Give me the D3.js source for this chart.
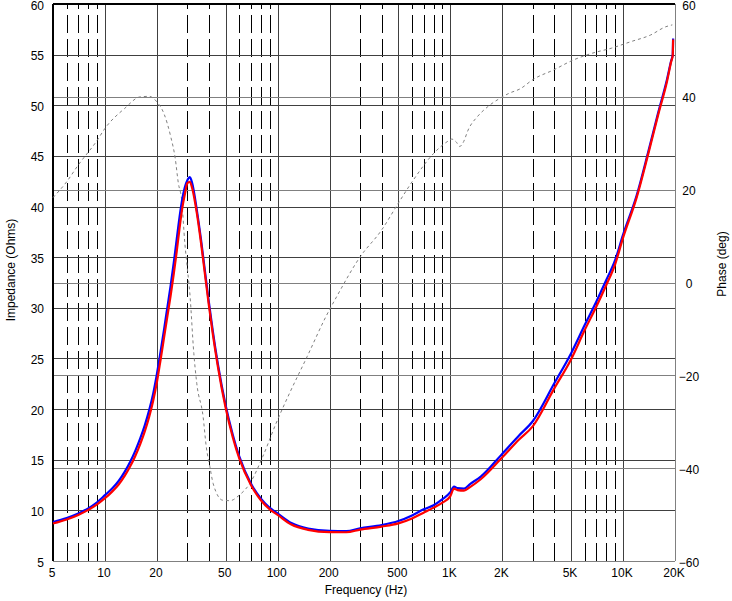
<!DOCTYPE html>
<html>
<head>
<meta charset="utf-8">
<script src="https://cdn.jsdelivr.net/npm/d3@7"></script>
<style>
  body { margin: 0; background: #fff; }
  svg text { font-family: "Liberation Sans", Arial, sans-serif; font-size: 12px; fill: #000; }
</style>
</head>
<body>
<div id="chart"></div>
<script>
// impedance sweep, two measurements (blue and red)
var freqHz = [5,6,7,8,9,10,11,12,13,14,15,16,17,18,19,20,21,22,23,24,25,26,27,28,29,30,31,32,34,36,38,40,42,45,50,55,60,70,80,90,100,120,150,
  200,250,300,400,500,600,700,800,900,1000,1050,1100,1200,1300,1500,2000,2500,3000,4000,5000,6000,7000,8000,9000,
  10000,12000,14000,16000,18000,19000,19400,19500];
var zBlue = [8.85,9.25,9.7,10.2,10.8,11.5,12.15,12.9,13.8,14.8,15.9,17.1,18.4,19.85,21.5,23.5,25.7,27.9,30.1,32.2,34.4,36.7,38.9,40.7,41.9,42.6,42.9,42.3,
  39.7,36.7,33.5,30.5,27.85,24.5,20.35,17.45,15.3,12.65,11.15,10.25,9.7,8.75,8.2,7.98,7.96,8.23,8.55,8.95,9.5,10.1,10.5,11.1,11.8,
  12.35,12.2,12.15,12.6,13.33,15.6,17.4,18.8,22.55,25.5,28.3,30.6,32.75,34.7,37.2,41.1,45.4,49.3,52.6,54.4,55.0,56.6];
var zRed = [8.7,9.1,9.55,10.05,10.6,11.2,11.85,12.55,13.4,14.35,15.4,16.55,17.8,19.2,20.8,22.7,24.9,27.1,29.2,31.2,33.3,35.5,37.8,39.8,41.2,42.3,42.45,41.8,
  39.4,36.4,33.2,30.2,27.55,24.25,20.1,17.2,15.1,12.5,11.0,10.1,9.55,8.6,8.08,7.85,7.84,8.1,8.4,8.72,9.2,9.77,10.27,10.76,11.4,
  12.15,12.0,11.95,12.3,13.07,15.24,17.0,18.3,22.05,24.9,27.8,30.1,32.25,34.3,36.9,40.9,45.2,49.1,52.4,54.3,54.9,56.5];

// phase (gray dotted)
var phaseFreqHz = [5,6,7,9,10,13,16,18,20,22,24,25.5,26.6,27.8,29,30,31,32.7,34,37,38.6,40.5,42.3,48,53,60,69,82,98,117,
  148,190,220,300,400,500,611,800,956,1020,1080,1134,1180,1280,1440,1650,1920,2200,2530,3030,3965,5130,6640,8600,
  11130,14400,17700,19300];
var phaseDeg = [18.3,21.7,25.3,30.6,33.2,37.5,40.0,40.1,38.9,36.3,31.5,26.8,21.4,17.8,8.5,3.0,-2.3,-15.3,-21.7,-28.9,
  -35.4,-39.7,-43.3,-46.9,-47.0,-45.8,-43.3,-37.5,-30.3,-23.9,-16.0,-7.4,-3.0,5.5,11.3,17.1,22.1,27.8,30.3,30.9,
  30.3,29.3,30.0,33.2,35.8,37.9,39.6,40.8,41.7,43.8,45.8,47.9,49.4,50.5,51.9,53.3,55.1,55.5];

// ticks and grid
var freqTicks = [5,10,20,50,100,200,500,1000,2000,5000,10000,20000];
var freqLabels = ["5","10","20","50","100","200","500","1K","2K","5K","10K","20K"];
var solidFreqs = [10,20,50,100,200,500,1000,2000,5000,10000];
var dashFreqs = [6,7,8,9,30,40,60,70,80,90,300,400,600,700,800,900,3000,4000,6000,7000,8000,9000];
var zTicks = [5,10,15,20,25,30,35,40,45,50,55,60];
var phaseTicks = [-60,-40,-20,0,20,40,60];

var W = 732, H = 601;
var margin = {top: 4, right: 57, bottom: 40, left: 53};
var pw = W - margin.left - margin.right;   // 622
var ph = H - margin.top - margin.bottom;   // 557

var svg = d3.select("#chart").append("svg")
    .attr("width", W)
    .attr("height", H);

var g = svg.append("g")
    .attr("transform", "translate(" + margin.left + "," + margin.top + ")");

var x = d3.scaleLog().domain([5, 20000]).range([0, pw]);
var yZ = d3.scaleLinear().domain([5, 60]).range([ph, 0]);
var yP = d3.scaleLinear().domain([-60, 60]).range([ph, 0]);

function crisp(v) { return Math.round(v) + 0.5; }

//vertical grid, dashed ones are drawn bottom-up so the dash starts at the floor
g.selectAll(".vdash").data(dashFreqs).enter().append("line")
    .attr("class", "vdash")
    .attr("x1", function(d){ return crisp(x(d)); })
    .attr("x2", function(d){ return crisp(x(d)); })
    .attr("y1", ph).attr("y2", 0)
    .attr("stroke", "#000")
    .attr("stroke-dasharray", "18,6");

g.selectAll(".vsolid").data(solidFreqs).enter().append("line")
    .attr("class", "vsolid")
    .attr("x1", function(d){ return crisp(x(d)); })
    .attr("x2", function(d){ return crisp(x(d)); })
    .attr("y1", 0).attr("y2", ph)
    .attr("stroke", "#404040");

// horizontal grid: impedance (dark) and phase (gray)
g.selectAll(".hz").data(zTicks.slice(1, -1)).enter().append("line")
    .attr("class", "hz")
    .attr("x1", 0).attr("x2", pw)
    .attr("y1", function(d){ return crisp(yZ(d)); })
    .attr("y2", function(d){ return crisp(yZ(d)); })
    .attr("stroke", "#404040");

g.selectAll(".hp").data(phaseTicks.slice(1, -1)).enter().append("line")
    .attr("class", "hp")
    .attr("x1", 0).attr("x2", pw)
    .attr("y1", function(d){ return crisp(yP(d)); })
    .attr("y2", function(d){ return crisp(yP(d)); })
    .attr("stroke", "#808080");

// frame: sunken look, dark top/left, gray bottom/right
g.append("line").attr("x1", 0).attr("x2", pw).attr("y1", 0).attr("y2", 0)
    .attr("stroke", "#000").attr("stroke-width", 2);
g.append("line").attr("x1", 0).attr("x2", 0).attr("y1", 0).attr("y2", ph)
    .attr("stroke", "#000").attr("stroke-width", 2);
g.append("line").attr("x1", 0).attr("x2", pw).attr("y1", ph + 0.5).attr("y2", ph + 0.5)
    .attr("stroke", "#808080");
g.append("line").attr("x1", pw + 0.5).attr("x2", pw + 0.5).attr("y1", 0).attr("y2", ph)
    .attr("stroke", "#808080");

// curves
var phaseLine = d3.line()
    .x(function(d){ return x(d[0]); })
    .y(function(d){ return yP(d[1]); })
    .curve(d3.curveMonotoneX);

var zLine = d3.line()
    .x(function(d){ return x(d[0]); })
    .y(function(d){ return yZ(d[1]); })
    .curve(d3.curveMonotoneX);

g.append("path")
    .datum(d3.zip(phaseFreqHz, phaseDeg))
    .attr("d", phaseLine)
    .attr("fill", "none")
    .attr("stroke", "#808080")
    .attr("stroke-width", 1)
    .attr("stroke-dasharray", "3,3");

g.append("path")
    .datum(d3.zip(freqHz, zBlue))
    .attr("d", zLine)
    .attr("fill", "none")
    .attr("stroke", "#0000ff")
    .attr("stroke-width", 2.2);

g.append("path")
    .datum(d3.zip(freqHz, zRed))
    .attr("d", zLine)
    .attr("fill", "none")
    .attr("stroke", "#ff0000")
    .attr("stroke-width", 2.2);

// axes (labels only)
var xAxis = g.append("g")
    .attr("transform", "translate(-1.5," + ph + ")")
    .call(d3.axisBottom(x).tickValues(freqTicks)
        .tickFormat(function(d, i){ return freqLabels[i]; })
        .tickSize(0).tickPadding(7.5));

var yAxisL = g.append("g")
    .call(d3.axisLeft(yZ).tickValues(zTicks).tickSize(0).tickPadding(9));

var yAxisR = g.append("g")
    .attr("transform", "translate(" + pw + ",0)")
    .call(d3.axisRight(yP).tickValues(phaseTicks).tickSize(0).tickPadding(14));
yAxisR.selectAll("text").attr("text-anchor", "middle");

[xAxis, yAxisL, yAxisR].forEach(function(a){
    a.select(".domain").remove();
    a.attr("font-family", null).attr("font-size", null);
    a.selectAll("text").attr("fill", "#000");
});
yAxisL.selectAll("text").attr("dy", "0.42em");
yAxisR.selectAll("text").attr("dy", "0.42em");

// titles
svg.append("text")
    .attr("x", 366).attr("y", 594)
    .attr("text-anchor", "middle")
    .text("Frequency (Hz)");

svg.append("text")
    .attr("transform", "translate(15,270) rotate(-90)")
    .attr("text-anchor", "middle")
    .text("Impedance (Ohms)");

svg.append("text")
    .attr("transform", "translate(726,264) rotate(-90)")
    .attr("text-anchor", "middle")
    .text("Phase (deg)");
</script>
</body>
</html>
